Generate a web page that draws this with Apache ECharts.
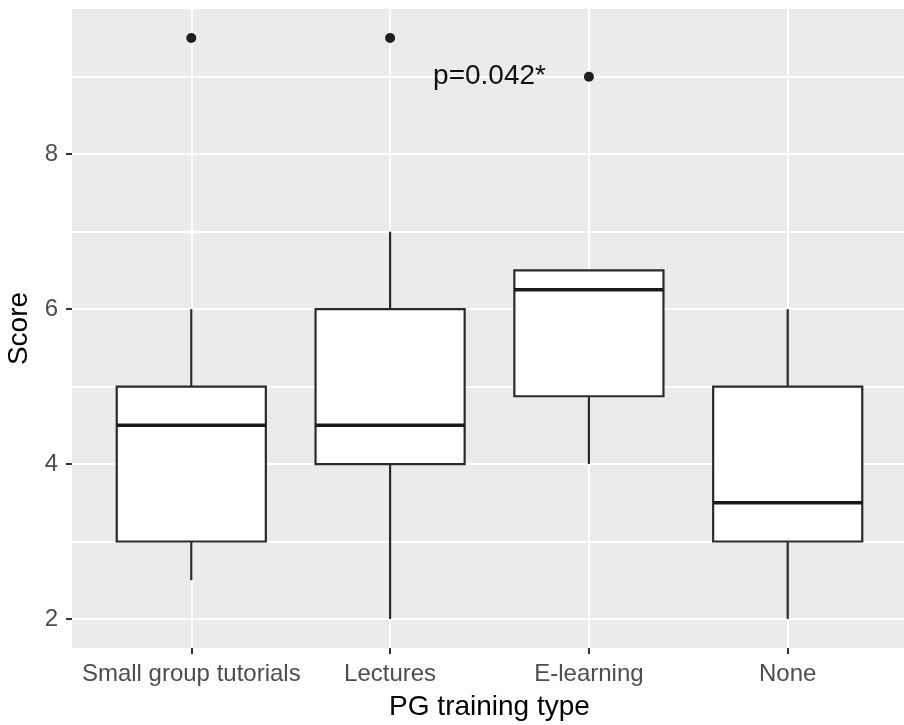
<!DOCTYPE html>
<html>
<head>
<meta charset="utf-8">
<title>PG training type</title>
<script src="https://cdn.jsdelivr.net/npm/echarts@6/dist/echarts.min.js"></script>
<style>
  html, body { margin: 0; padding: 0; background: #fff; }
  #main { width: 904px; height: 725px; }
</style>
</head>
<body>
<div id="main"></div>
<script type="text/javascript">
// data
var categories = ['Small group tutorials', 'Lectures', 'E-learning', 'None'];
var lowerWhisker = [2.5, 2, 4, 2];
var q1 = [3, 4, 4.875, 3];
var median = [4.5, 4.5, 6.25, 3.5];
var q3 = [5, 6, 6.5, 5];
var upperWhisker = [6, 7, 6.5, 6];
var outliers = [[1, 9.5], [2, 9.5], [3, 9]];
var yTickLabels = [2, 4, 6, 8];
var yGridValues = [2, 3, 4, 5, 6, 7, 8, 9];
var xTickValues = [1, 2, 3, 4];
var annotation = [[2.5, 9, 'p=0.042*']];

var myChart = echarts.init(document.getElementById('main'));

var boxData = [];
for (var i = 0; i < categories.length; i++) {
  boxData.push([i + 1, lowerWhisker[i], q1[i], median[i], q3[i], upperWhisker[i]]);
}

function renderBox(params, api) {
  var x = api.value(0);
  var half = 0.375;
  var lo = api.coord([x, api.value(1)]);
  var b1 = api.coord([x, api.value(2)]);
  var md = api.coord([x, api.value(3)]);
  var b3 = api.coord([x, api.value(4)]);
  var hi = api.coord([x, api.value(5)]);
  var left = api.coord([x - half, api.value(2)])[0];
  var right = api.coord([x + half, api.value(2)])[0];
  var stroke = { stroke: '#2b2b2b', lineWidth: 2.2, fill: null };
  return {
    type: 'group',
    children: [
      { type: 'line', shape: { x1: lo[0], y1: lo[1], x2: b1[0], y2: b1[1] }, style: stroke },
      { type: 'line', shape: { x1: b3[0], y1: b3[1], x2: hi[0], y2: hi[1] }, style: stroke },
      { type: 'rect', shape: { x: left, y: b3[1], width: right - left, height: b1[1] - b3[1] },
        style: { fill: '#ffffff', stroke: '#2b2b2b', lineWidth: 2.2 } },
      { type: 'line', shape: { x1: left, y1: md[1], x2: right, y2: md[1] },
        style: { stroke: '#1a1a1a', lineWidth: 3.5 } }
    ]
  };
}

var tickLabel = { color: '#4D4D4D', fontFamily: 'Liberation Sans', fontSize: 24 };
var titleText = { color: '#000000', fontFamily: 'Liberation Sans', fontSize: 28 };

option = {
  animation: false,
  grid: {
    left: 72, right: -3, top: 9, bottom: 77,
    show: true, backgroundColor: '#EBEBEB', borderWidth: 0,
    outerBoundsMode: 'none'
  },
  xAxis: {
    type: 'value',
    min: 0.4,
    max: 4.6,
    name: 'PG training type',
    nameLocation: 'middle',
    nameGap: 45,
    nameTextStyle: titleText,
    axisLine: { show: false },
    axisTick: { show: true, length: 6, customValues: xTickValues, lineStyle: { color: '#333333', width: 2 } },
    axisLabel: {
      customValues: xTickValues,
      margin: 14,
      color: tickLabel.color, fontFamily: tickLabel.fontFamily, fontSize: tickLabel.fontSize,
      formatter: function (v) { return categories[Math.round(v) - 1] || ''; }
    },
    splitLine: { show: true, lineStyle: { color: '#ffffff', width: 2 } }
  },
  yAxis: [
    {
      type: 'value',
      min: 1.625,
      max: 9.875,
      position: 'left',
      name: 'Score',
      nameLocation: 'middle',
      nameGap: 36,
      nameTextStyle: titleText,
      axisLine: { show: false },
      axisTick: { show: true, length: 6, customValues: yTickLabels, lineStyle: { color: '#333333', width: 2 } },
      axisLabel: {
        customValues: yTickLabels,
        margin: 14,
        color: tickLabel.color, fontFamily: tickLabel.fontFamily, fontSize: tickLabel.fontSize
      },
      splitLine: { show: false }
    },
    {
      type: 'value',
      min: 1.625,
      max: 9.875,
      position: 'left',
      axisLine: { show: false },
      axisTick: { show: false, customValues: yGridValues },
      axisLabel: { show: false },
      splitLine: { show: true, lineStyle: { color: '#ffffff', width: 2 } }
    }
  ],
  series: [
    {
      type: 'custom',
      renderItem: renderBox,
      data: boxData,
      encode: { x: 0, y: [1, 2, 3, 4, 5] },
      z: 2
    },
    {
      type: 'scatter',
      data: outliers,
      symbolSize: 10,
      itemStyle: { color: '#1f1f1f', opacity: 1 },
      z: 3
    },
    {
      type: 'scatter',
      data: annotation,
      symbolSize: 0,
      itemStyle: { opacity: 1 },
      label: {
        show: true,
        position: 'inside',
        formatter: function (p) { return p.data[2]; },
        color: '#111111',
        fontFamily: 'Liberation Sans',
        fontSize: 28
      },
      z: 4
    }
  ]
};
myChart.setOption(option);
</script>
</body>
</html>
